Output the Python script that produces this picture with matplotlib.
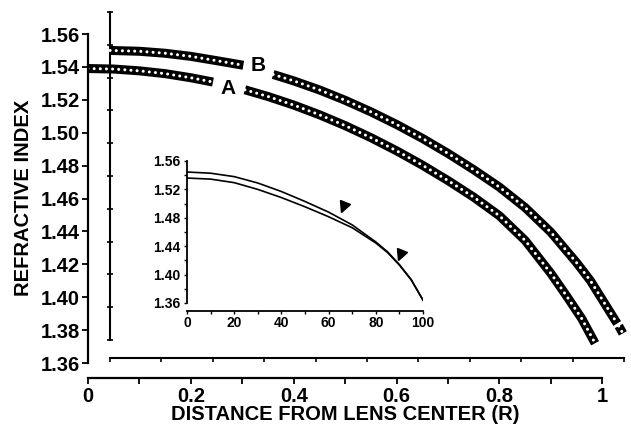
import matplotlib
matplotlib.use('Agg')
import matplotlib.pyplot as plt
from matplotlib.markers import MarkerStyle
from matplotlib.transforms import Affine2D

plt.rcParams['font.family'] = ['Liberation Sans', 'DejaVu Sans']
plt.rcParams['font.weight'] = 'bold'

# curve A, split around its label
a1_r = [0, 0.05, 0.1, 0.15, 0.2, 0.243]
a1_n = [1.539, 1.5387, 1.5376, 1.5359, 1.5334, 1.5308]
a2_r = [0.305, 0.35, 0.4, 0.45, 0.5, 0.55, 0.6, 0.65, 0.7, 0.75, 0.8,
        0.85, 0.9, 0.93, 0.96, 0.986]
a2_n = [1.5261, 1.522, 1.5168, 1.5109, 1.5043, 1.497, 1.489, 1.4803, 1.4709,
        1.4608, 1.4495, 1.4345, 1.4145, 1.401, 1.387, 1.372]

# curve B (offset copy), split around its label
b1_r = [0.043, 0.1, 0.15, 0.2, 0.25, 0.302]
b1_n = [1.550, 1.5495, 1.5483, 1.5464, 1.5438, 1.541]
b2_r = [0.36, 0.4, 0.45, 0.5, 0.55, 0.6, 0.65, 0.7, 0.75, 0.8, 0.85, 0.9,
        0.95, 0.977, 1.0, 1.029]
b2_n = [1.5354, 1.5315, 1.526, 1.5197, 1.5127, 1.505, 1.4966, 1.4874, 1.4775,
        1.4669, 1.4545, 1.4395, 1.421, 1.410, 1.3985, 1.384]
b3_r = [1.032, 1.040]
b3_n = [1.3825, 1.378]

# inset: distance in % of radius
in_up_x = [0, 10, 20, 30, 40, 50, 60, 70, 80, 85, 90, 95, 100]
in_up_y = [1.5445, 1.5428, 1.538, 1.529, 1.517, 1.503, 1.488, 1.470, 1.446,
           1.432, 1.414, 1.393, 1.364]
in_lo_x = [0, 10, 20, 30, 40, 50, 60, 70, 80, 85, 90, 95, 100]
in_lo_y = [1.536, 1.5345, 1.5295, 1.520, 1.5085, 1.4955, 1.4815, 1.466, 1.4445,
           1.431, 1.4135, 1.3925, 1.364]
arrow_x = [66.1, 90.3]
arrow_y = [1.495, 1.428]

y_ticks = [1.36, 1.38, 1.40, 1.42, 1.44, 1.46, 1.48, 1.50, 1.52, 1.54, 1.56]
x_ticks = [0, 0.2, 0.4, 0.6, 0.8, 1]
x_labels = ['0', '0.2', '0.4', '0.6', '0.8', '1']
in_y_ticks = [1.36, 1.40, 1.44, 1.48, 1.52, 1.56]
in_x_ticks = [0, 20, 40, 60, 80, 100]

W, H = 631, 428
fig = plt.figure(figsize=(W/100, H/100), dpi=100)

def box(l, t, r, b):
    return [l/W, 1-b/H, (r-l)/W, (b-t)/H]

# decorative offset frame belonging to curve B
ax2 = fig.add_axes(box(110, 12, 628, 340))
ax2.patch.set_visible(False)
ax2.set_xlim(0, 518/514)
ax2.set_ylim(1.36, 1.56)
for s in ['top', 'right']:
    ax2.spines[s].set_visible(False)
ax2.spines['bottom'].set_position(('outward', 13))
ax2.spines['bottom'].set_bounds(0, 1.0)
ax2.set_xticks([i/10 for i in range(11)])
ax2.set_yticks(y_ticks)
ax2.tick_params(labelleft=False, labelbottom=False, length=3, width=1.2)
ax2.tick_params(axis='y', direction='inout', length=4)
for s in ['left', 'bottom']:
    ax2.spines[s].set_linewidth(1.5)

ax = fig.add_axes(box(88, 34, 628, 363))
ax.patch.set_visible(False)
ax.set_xlim(0, 1.05)
ax.set_ylim(1.36, 1.56)
for s in ['top', 'right']:
    ax.spines[s].set_visible(False)
ax.spines['bottom'].set_position(('outward', 11))
ax.spines['bottom'].set_bounds(0, 1)
ax.spines['left'].set_bounds(1.36, 1.56)
for s in ['left', 'bottom']:
    ax.spines[s].set_linewidth(1.6)
ax.set_xticks(x_ticks)
ax.set_xticklabels(x_labels)
ax.set_xticks([i/10 for i in range(11)], minor=True)
ax.set_yticks(y_ticks)
ax.set_yticklabels(['%.2f' % v for v in y_ticks])
ax.tick_params(which='both', length=4, width=1.3, labelsize=14.5)
ax.tick_params(axis='x', pad=2)
ax.tick_params(axis='y', pad=2)

for r, n in [(a1_r, a1_n), (a2_r, a2_n), (b1_r, b1_n), (b2_r, b2_n), (b3_r, b3_n)]:
    ax.plot(r, n, color='black', lw=6.5, solid_capstyle='butt', solid_joinstyle='round')
    ax.plot(r, n, color='white', lw=2.2, linestyle=(0, (0.01, 2.0)),
            dash_capstyle='round')

ax.text(0.272, 1.527, 'A', fontsize=15, ha='center', va='center')
ax.text(0.331, 1.541, 'B', fontsize=15, ha='center', va='center')

fig.text(24/W, 1-198/H, 'REFRACTIVE INDEX', rotation=90, fontsize=14.5,
         ha='center', va='center')
fig.text(345/W, 1-414/H, 'DISTANCE FROM LENS CENTER (R)', fontsize=14.5,
         ha='center', va='center')

# inset
axi = fig.add_axes(box(187, 161, 423, 303))
axi.patch.set_visible(False)
axi.set_xlim(0, 100)
axi.set_ylim(1.36, 1.56)
for s in ['top', 'right']:
    axi.spines[s].set_visible(False)
axi.spines['bottom'].set_position(('outward', 6))
for s in ['left', 'bottom']:
    axi.spines[s].set_linewidth(1.3)
axi.set_xticks(in_x_ticks)
axi.set_xticks(range(0, 101, 10), minor=True)
axi.set_yticks(in_y_ticks)
axi.set_yticklabels(['%.2f' % v for v in in_y_ticks])
axi.set_yticks([1.36 + 0.02*i for i in range(11)], minor=True)
axi.tick_params(which='both', length=2.5, width=1, labelsize=10)
axi.tick_params(axis='x', pad=1)
axi.tick_params(axis='y', pad=2)
axi.plot(in_up_x, in_up_y, color='black', lw=1.2)
axi.plot(in_lo_x, in_lo_y, color='black', lw=1.2)
tri = MarkerStyle('v', transform=Affine2D().rotate_deg(-20))
axi.plot(arrow_x, arrow_y, linestyle='none', marker=tri, markersize=8,
         color='black')

fig.savefig('out.png', dpi=100)
